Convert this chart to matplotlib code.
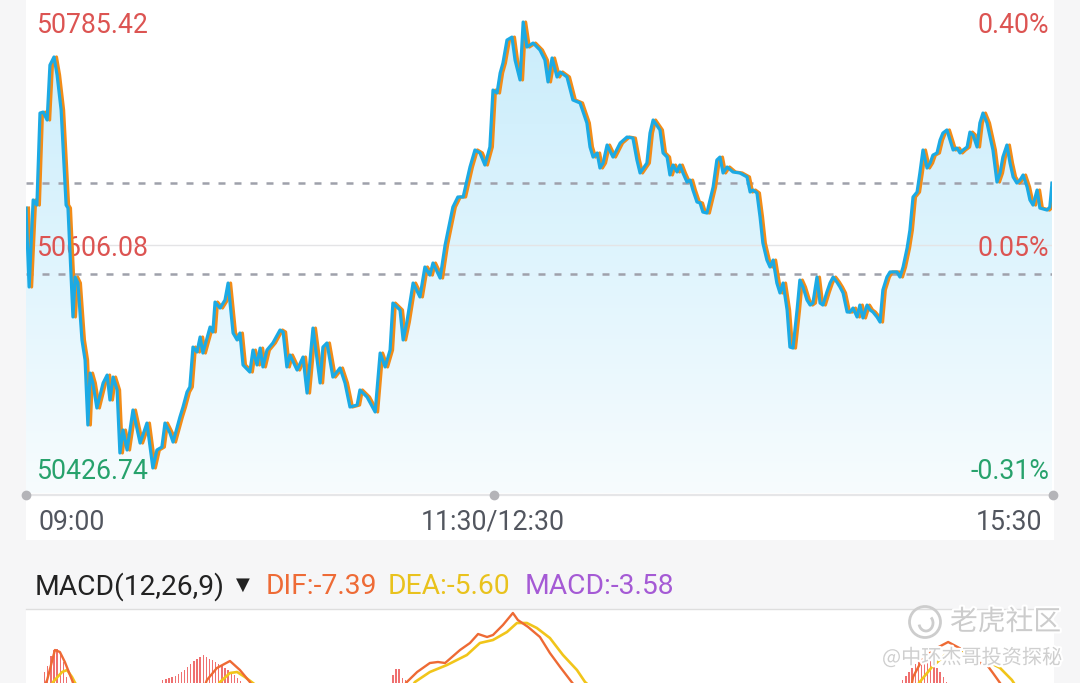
import numpy as np
import matplotlib
matplotlib.use("Agg")
import matplotlib.pyplot as plt
from matplotlib.patches import Polygon, Rectangle, Ellipse, Arc
from matplotlib.lines import Line2D
from matplotlib.colors import LinearSegmentedColormap
import matplotlib.patheffects as pe
import matplotlib.transforms as mtransforms

# ---------------- data ----------------
# minutes of trading since 09:00 (lunch break 11:30-12:30 removed, 330 min total)
minutes = [
    0.0, 1.0, 2.3, 3.5, 4.5, 5.5, 6.8, 7.7, 9.0, 10.0,
    11.3, 12.9, 13.5, 15.1, 15.8, 16.7, 18.0, 19.0, 19.9, 20.6,
    21.5, 22.8, 24.8, 26.1, 27.0, 28.0, 29.3, 30.2, 31.2, 32.5,
    34.4, 36.7, 38.9, 39.9, 40.8, 42.1, 43.7, 44.7, 46.3, 47.3,
    49.5, 50.5, 51.8, 52.7, 53.7, 55.0, 56.0, 56.9, 59.2, 60.1,
    60.8, 62.4, 64.0, 65.0, 66.6, 67.9, 68.8, 69.8, 72.0, 73.0,
    74.3, 75.3, 76.2, 77.5, 79.4, 81.7, 82.7, 83.9, 84.9, 87.2,
    89.1, 90.4, 92.3, 94.6, 95.5, 96.8, 98.7, 101.0, 102.6, 104.2,
    106.5, 107.4, 109.7, 112.3, 113.9, 115.5, 117.1, 118.0, 120.3, 121.3,
    122.5, 124.5, 126.7, 128.3, 129.9, 130.9, 133.2, 134.8, 137.3, 138.9,
    140.6, 142.8, 144.4, 146.0, 147.6, 149.2, 150.2, 151.5, 152.5, 153.4,
    154.7, 156.3, 157.3, 158.9, 159.9, 161.1, 163.1, 165.3, 166.9, 167.9,
    169.2, 170.8, 171.8, 174.0, 175.9, 178.2, 180.4, 181.4, 182.4, 183.7,
    184.6, 185.6, 186.9, 188.8, 191.1, 193.3, 195.2, 196.5, 197.5, 199.7,
    200.7, 201.7, 203.9, 204.9, 206.2, 207.1, 208.1, 209.4, 210.3, 211.3,
    212.6, 213.6, 214.5, 215.8, 216.8, 217.7, 219.0, 220.0, 221.0, 222.2,
    223.2, 224.2, 225.5, 227.4, 229.6, 231.9, 232.9, 233.8, 235.1, 236.1,
    237.0, 238.3, 239.3, 240.3, 241.5, 242.5, 243.5, 244.8, 245.7, 246.7,
    248.0, 248.9, 249.9, 251.2, 252.2, 253.1, 254.4, 255.4, 256.3, 257.6,
    258.6, 259.6, 260.8, 261.8, 262.8, 264.1, 265.0, 266.0, 267.3, 268.2,
    269.2, 270.5, 271.5, 272.4, 273.7, 274.7, 275.6, 276.9, 277.9, 280.1,
    281.1, 282.1, 283.4, 284.3, 285.3, 286.6, 287.5, 288.5, 289.8, 290.8,
    291.7, 293.0, 294.0, 294.9, 296.2, 297.2, 298.2, 299.4, 300.4, 301.4,
    302.7, 303.6, 304.6, 305.9, 306.8, 307.8, 309.1, 310.1, 311.0, 312.3,
    313.3, 314.2, 315.5, 316.5, 317.5, 318.7, 319.7, 320.7, 322.0, 322.9,
    323.9, 325.2, 326.1, 328.4, 329.3, 330.0,
]
prices = [
    50635.8, 50572.3, 50642.3, 50638.2, 50712.2, 50713.0, 50706.6, 50750.8, 50757.3, 50742.8,
    50714.6, 50638.2, 50635.8, 50548.2, 50580.3, 50575.5, 50529.7, 50513.6, 50461.3, 50503.1,
    50495.1, 50475.0, 50495.1, 50501.5, 50481.4, 50499.9, 50489.5, 50438.8, 50457.3, 50441.2,
    50473.4, 50446.8, 50462.9, 50443.6, 50426.74, 50441.2, 50443.6, 50462.9, 50454.9, 50447.6,
    50467.7, 50475.8, 50487.9, 50491.9, 50524.0, 50520.0, 50532.1, 50519.2, 50540.1, 50536.1,
    50560.2, 50555.4, 50561.8, 50575.5, 50535.3, 50529.7, 50535.3, 50509.6, 50503.9, 50521.6,
    50509.6, 50523.2, 50508.0, 50521.6, 50527.3, 50537.7, 50536.1, 50508.0, 50517.6, 50505.5,
    50516.0, 50487.0, 50539.3, 50495.1, 50524.0, 50527.3, 50499.9, 50507.2, 50495.1, 50475.8,
    50477.4, 50489.5, 50483.8, 50471.8, 50519.2, 50508.0, 50521.6, 50559.4, 50553.8, 50529.7,
    50544.1, 50575.5, 50564.3, 50588.4, 50581.9, 50591.6, 50579.5, 50606.1, 50636.6, 50644.7,
    50644.7, 50668.8, 50682.5, 50680.1, 50670.4, 50684.9, 50730.7, 50728.3, 50744.4, 50752.4,
    50770.9, 50773.3, 50754.8, 50738.8, 50785.42, 50765.3, 50768.5, 50762.9, 50754.8, 50737.2,
    50756.5, 50741.2, 50745.2, 50741.2, 50722.7, 50720.3, 50704.2, 50684.9, 50676.8, 50680.1,
    50668.0, 50672.0, 50686.5, 50676.8, 50688.1, 50692.9, 50692.1, 50674.4, 50664.0, 50672.0,
    50696.1, 50706.6, 50698.6, 50680.1, 50676.8, 50662.4, 50670.4, 50664.8, 50670.4, 50664.0,
    50656.7, 50658.3, 50650.3, 50640.7, 50639.8, 50632.6, 50631.8, 50642.3, 50652.7, 50674.4,
    50676.8, 50664.0, 50668.8, 50664.8, 50664.0, 50660.8, 50648.7, 50650.3, 50647.9, 50628.6,
    50607.7, 50594.0, 50588.4, 50594.0, 50575.5, 50567.5, 50575.5, 50553.8, 50524.0, 50523.2,
    50553.8, 50577.9, 50572.3, 50561.8, 50557.8, 50559.4, 50580.3, 50559.4, 50557.8, 50568.3,
    50575.5, 50580.3, 50576.3, 50572.3, 50567.5, 50552.2, 50552.2, 50555.4, 50548.2, 50557.8,
    50547.4, 50557.8, 50553.8, 50552.2, 50548.2, 50544.1, 50569.9, 50580.3, 50584.4, 50584.4,
    50580.3, 50588.4, 50603.7, 50618.1, 50644.7, 50648.7, 50664.0, 50682.5, 50668.0, 50672.0,
    50678.4, 50680.1, 50690.5, 50696.1, 50698.6, 50690.5, 50682.5, 50684.1, 50680.1, 50682.5,
    50684.9, 50696.9, 50694.5, 50684.9, 50704.2, 50712.2, 50704.2, 50692.9, 50682.5, 50656.7,
    50664.0, 50676.8, 50686.5, 50672.0, 50660.8, 50655.9, 50658.3, 50662.4, 50652.7, 50642.3,
    50638.2, 50650.3, 50635.8, 50634.2, 50636.6, 50655.9,
]
assert len(minutes) == len(prices)

price_high = 50785.42
price_mid = 50606.08
price_low = 50426.74
prev_close = 50583.0
ref_level = 50656.0
left_labels = ["50785.42", "50606.08", "50426.74"]
right_labels = ["0.40%", "0.05%", "-0.31%"]
time_labels = ["09:00", "11:30/12:30", "15:30"]
time_label_minutes = [0, 150, 330]

dif_minutes = [0, 3, 6.8, 9.3, 10.9, 12.5, 14.8, 17, 22, 30,
               40, 48, 54, 58.2, 61.4, 65.6, 68.8, 72.0, 75, 85,
               95, 105, 112, 118, 122.5, 125.8, 129.9, 132.5, 134.8, 139.6,
               142.8, 145.4, 148.3, 150.2, 153.4, 156.6, 158.2, 161.5, 165.3, 168.5,
               171.8, 175.0, 180, 190, 205, 220, 235, 250, 265, 275,
               282, 285.3, 288.2, 291.7, 296.6, 301.4, 305.9, 309.1, 311.0, 313.3,
               318, 325, 330]
dif_values = [0.0, 4.0, 12.0, 21.0, 20.4, 17.4, 12.0, 6.0, -4.0, -14.0,
              -20.0, -10.0, 2.0, 12.0, 15.6, 17.7, 15.0, 11.4, 7.0, 0.0,
              -6.0, -10.0, -4.0, 6.0, 11.4, 14.4, 17.1, 17.4, 17.1, 21.0,
              23.1, 25.8, 24.9, 25.5, 28.5, 32.1, 30.0, 27.9, 24.9, 20.1,
              15.9, 12.0, 6.0, -2.0, -6.0, -5.0, -10.0, -25.0, -28.0, -20.0,
              -5.0, 12.9, 18.0, 21.0, 23.4, 21.0, 17.4, 16.5, 14.1, 11.1,
              4.0, -3.0, -7.39]
dea_minutes = [0, 5, 8.7, 11.6, 13.2, 14.8, 15.8, 20, 30, 40,
               50, 56, 62.4, 65.6, 67.9, 70.4, 73.0, 80, 95, 110,
               120, 125.1, 129.9, 135.4, 141.8, 146.0, 150.2, 154.7, 157.9, 161.1,
               164.3, 168.5, 172.7, 177.2, 179.8, 190, 210, 240, 260, 280,
               287.2, 291.4, 295.6, 300.1, 304.3, 308.5, 313.3, 317.1, 322, 330]
dea_values = [0.0, 2.0, 11.4, 14.4, 15.0, 12.9, 11.1, 6.0, -4.0, -12.0,
              -8.0, 2.0, 11.4, 14.1, 14.4, 12.9, 11.1, 6.0, -2.0, -5.0,
              4.0, 11.4, 14.4, 16.5, 19.5, 23.1, 24.0, 26.4, 29.1, 29.1,
              27.6, 24.6, 19.5, 15.0, 11.4, 3.0, -3.0, -8.0, -20.0, -12.0,
              11.1, 15.9, 19.5, 21.0, 20.1, 18.0, 15.6, 12.0, 5.0, -5.60]
hist_minutes = ([6, 7, 8, 9, 10, 11, 12, 13]
                + list(range(44, 72))
                + [118, 119, 120, 121, 122, 123]
                + list(range(281, 298))
                + [330])
hist_values = ([14.4, 16.2, 19.2, 21.0, 21.3, 20.1, 17.4, 12.9]
               + [12.0, 12.3, 12.6, 12.9, 13.2, 13.8, 14.4, 15.0, 15.9, 16.8,
                  17.7, 18.3, 18.9, 19.5, 18.9, 18.3, 18.0, 17.4, 16.8, 16.2,
                  15.6, 15.0, 14.4, 13.5, 12.6, 11.7, 10.8, 9.6]
               + [13.5, 15.3, 15.3, 12.6, 12.0, 10.5]
               + [10.8, 12.0, 13.2, 14.4, 15.6, 16.8, 17.7, 18.3, 18.6, 18.3,
                  17.7, 16.8, 15.6, 14.4, 12.9, 11.4, 9.9]
               + [-3.58])
assert len(dif_minutes) == len(dif_values)
assert len(dea_minutes) == len(dea_values)
assert len(hist_minutes) == len(hist_values)

# ---------------- figure ----------------
W, H = 1080, 683
fig = plt.figure(figsize=(W / 100, H / 100), dpi=100)
fig.patch.set_facecolor("#f6f6f7")
FONT = ["Roboto", "DejaVu Sans"]
LBL = 19.2


def fx(px):
    return px / W


def fy(py):
    return 1 - py / H


def shift(dx_px, dy_px):
    return mtransforms.ScaledTranslation(dx_px / 100, -dy_px / 100, fig.dpi_scale_trans)


# white panels
fig.add_artist(Rectangle((fx(26), fy(540)), fx(1054) - fx(26), fy(0) - fy(540),
                         transform=fig.transFigure, facecolor="white", edgecolor="none", zorder=0))
fig.add_artist(Rectangle((fx(26), fy(684)), fx(1054) - fx(26), fy(609) - fy(684),
                         transform=fig.transFigure, facecolor="white", edgecolor="none", zorder=0))
fig.add_artist(Line2D([fx(26), fx(1054)], [fy(608.5), fy(608.5)], transform=fig.transFigure,
                      color="#dedede", lw=1.0, zorder=1))

# ---------------- main price axes ----------------
ax = fig.add_axes([fx(26), fy(493), fx(1052) - fx(26), 493 / H])
ax.set_axis_off()
ax.set_xlim(0, 330)
y_lo = price_low - 20.1
y_hi = price_high + 17.7
ax.set_ylim(y_lo, y_hi)

cmap = LinearSegmentedColormap.from_list("fillgrad", ["#c8ecfb", "#def4fd", "#f7fcfe"])
grad = np.linspace(0, 1, 256).reshape(-1, 1)
im = ax.imshow(grad, cmap=cmap, extent=[0, 330, y_lo, y_hi], aspect="auto",
               origin="upper", zorder=1, interpolation="bilinear")
verts = [(minutes[0], y_lo)] + list(zip(minutes, prices)) + [(minutes[-1], y_lo)]
clip = Polygon(verts, closed=True, facecolor="none", edgecolor="none", transform=ax.transData)
ax.add_patch(clip)
im.set_clip_path(clip)

ax.axhline(price_mid, color="#e4e4e6", lw=1.0, zorder=1.5)
for lvl in (prev_close, ref_level):
    ax.axhline(lvl, color="#9fa1ab", lw=1.8, ls=(0, (2.8, 3.6)), zorder=2)

orange_lag = 0.8
ax.plot(np.array(minutes) + orange_lag, prices, color="#f28c18", lw=2.3, zorder=3,
        solid_joinstyle="round")
ax.plot(minutes, prices, color="#1caae4", lw=2.3, zorder=4, solid_joinstyle="round")

# y labels
red = "#dc5452"
green = "#27a26c"
lblend = mtransforms.blended_transform_factory(fig.transFigure, ax.transData)
for val, ltxt, rtxt, col in zip([price_high, price_mid, price_low], left_labels, right_labels,
                                [red, red, green]):
    ax.text(fx(37), val, ltxt, transform=lblend + shift(0, 3), ha="left", va="center",
            fontsize=LBL, color=col, family=FONT, zorder=2.5)
    ax.text(fx(1049), val, rtxt, transform=lblend + shift(0, 3), ha="right", va="center",
            fontsize=LBL, color=col, family=FONT, zorder=2.5)

# bottom axis line with dots
fig.add_artist(Line2D([fx(26), fx(1053)], [fy(495), fy(495)], transform=fig.transFigure,
                      color="#e6e6e8", lw=1.6, zorder=2))
for px in (26, 494, 1053):
    fig.add_artist(Line2D([fx(px)], [fy(495)], transform=fig.transFigure, marker="o",
                          ms=6, color="#b4b4b8", lw=0, zorder=3))

# time labels
tblend = mtransforms.blended_transform_factory(ax.transData, fig.transFigure)
for m, t, ha, dx in zip(time_label_minutes, time_labels, ["left", "center", "right"], [12, 0, -10]):
    ax.text(m, fy(520), t, transform=tblend + shift(dx, 2), ha=ha, va="center", fontsize=LBL,
            color="#52565f", family=FONT, clip_on=False)

# ---------------- MACD header ----------------
HDR = 20.3
hy = fy(587)
fig.text(fx(35), hy, "MACD(12,26,9)", ha="left", va="center", fontsize=HDR,
         color="#222222", family=FONT)
fig.text(fx(243), fy(585), "▼", ha="center", va="center", fontsize=13,
         color="#222222", family=["DejaVu Sans"])
fig.text(fx(266), hy, "DIF:-7.39", ha="left", va="center", fontsize=HDR,
         color="#ee6b36", family=FONT)
fig.text(fx(388), hy, "DEA:-5.60", ha="left", va="center", fontsize=HDR,
         color="#e9c21d", family=FONT)
fig.text(fx(525), hy, "MACD:-3.58", ha="left", va="center", fontsize=HDR,
         color="#a55ad5", family=FONT)

# ---------------- MACD axes (extends below the visible figure) ----------------
mx = fig.add_axes([fx(26), fy(783), fx(1052) - fx(26), (783 - 609) / H])
mx.set_axis_off()
mx.set_xlim(0, 330)
mx.set_ylim(-18.9, 33.3)
hv = np.array(hist_values)
mx.bar(hist_minutes, hv, width=0.42, color=np.where(hv >= 0, "#ef7070", "#3bb273"),
       zorder=1)
mx.plot(dif_minutes, dif_values, color="#ee6a34", lw=1.7, zorder=3)
mx.plot(dea_minutes, dea_values, color="#f1c51a", lw=1.9, zorder=2)

# ---------------- watermark ----------------
wm_fx = [pe.withStroke(linewidth=3, foreground="white")]
fig.add_artist(Ellipse((fx(925), fy(622)), 31 / W, 31 / H, transform=fig.transFigure,
                       facecolor="none", edgecolor="#cdcdcd", lw=2.0, zorder=10))
fig.add_artist(Arc((fx(926), fy(623)), 14 / W, 16 / H, theta1=200, theta2=60,
                   transform=fig.transFigure, edgecolor="#cdcdcd", lw=2.0, zorder=10))
fig.text(fx(950), fy(622), "老虎社区", ha="left", va="center", fontsize=20,
         color="#cccccc", family=["Noto Sans CJK SC", "DejaVu Sans"], zorder=10,
         path_effects=wm_fx)
fig.text(fx(1062), fy(658), "@中环杰哥投资探秘", ha="right", va="center", fontsize=14.5,
         color="#cfcfcf", family=["Noto Sans CJK SC", "DejaVu Sans"], zorder=10,
         path_effects=wm_fx)

fig.savefig("out.png", dpi=100, facecolor=fig.get_facecolor())
